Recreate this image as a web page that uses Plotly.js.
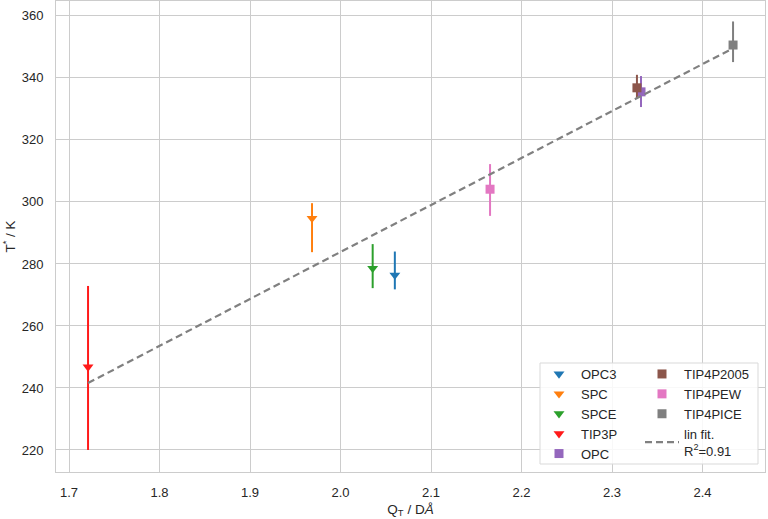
<!DOCTYPE html>
<html>
<head>
<meta charset="utf-8">
<script src="https://cdn.plot.ly/plotly-3.0.1.min.js"></script>
<style>html,body{margin:0;padding:0;background:#fff;}#chart{width:768px;height:519px;}</style>
</head>
<body>
<div id="chart"></div>
<script>
// ---- data ----
const models = ['OPC3', 'SPC', 'SPCE', 'TIP3P', 'OPC', 'TIP4P2005', 'TIP4PEW', 'TIP4PICE'];
const qT    = [2.060, 1.9685, 2.0355, 1.721, 2.332, 2.3275, 2.1652, 2.4337];
const tStar = [276.4, 294.7, 278.6, 246.8, 335.5, 336.8, 304.1, 350.6];
const tHigh = [284.0, 299.6, 286.4, 272.9, 340.6, 341.0, 312.2, 358.2];
const tLow  = [271.8, 283.8, 272.2, 220.0, 330.6, 333.5, 295.5, 345.1];
const fitX = [1.721, 2.434];
const fitY = [241.6, 349.6];
const fitName = 'lin fit.<br>R<sup>2</sup>=0.91';
const xTicks = [1.7, 1.8, 1.9, 2.0, 2.1, 2.2, 2.3, 2.4];
const yTicks = [220, 240, 260, 280, 300, 320, 340, 360];

// ---- styles ----
const colors  = ['#1f77b4', '#ff7f0e', '#2ca02c', '#ff1a1a', '#9467bd', '#8c564b', '#e377c2', '#7f7f7f'];
const symbols = ['triangle-down', 'triangle-down', 'triangle-down', 'triangle-down', 'square', 'square', 'square', 'square'];
const legendOf = ['legend', 'legend', 'legend', 'legend', 'legend', 'legend2', 'legend2', 'legend2'];

const traces = models.map((m, i) => ({
  type: 'scatter', mode: 'markers', name: m,
  x: [qT[i]], y: [tStar[i]],
  marker: {symbol: symbols[i], color: colors[i], size: symbols[i] === 'square' ? 9 : 9.5, line: {width: 0}},
  error_y: {type: 'data', symmetric: false, array: [tHigh[i] - tStar[i]], arrayminus: [tStar[i] - tLow[i]],
            width: 0, thickness: 2, color: colors[i]},
  legend: legendOf[i]
}));
traces.push({
  type: 'scatter', mode: 'lines', name: fitName, x: fitX, y: fitY,
  line: {color: '#808080', width: 2.2, dash: '7px,4px'}, legend: 'legend2'
});

const W = 768, H = 519, mL = 56, mR = 3, mT = 1, mB = 47;
const pw = W - mL - mR, ph = H - mT - mB;
const px2x = p => (p - mL) / pw;
const py2y = p => (H - mB - p) / ph;

const font = {family: 'Liberation Sans, Arial, sans-serif', color: '#262626'};
const legFont = {family: 'Liberation Sans, Arial, sans-serif', size: 13, color: '#262626'};

const layout = {
  width: W, height: H,
  margin: {l: mL, r: mR, t: mT, b: mB},
  paper_bgcolor: '#ffffff', plot_bgcolor: '#ffffff',
  font: font,
  showlegend: true,
  xaxis: {
    range: [1.6856, 2.469], tickvals: xTicks, ticktext: xTicks.map(v => v.toFixed(1)),
    showgrid: true, gridcolor: '#cccccc', gridwidth: 1, zeroline: false,
    showline: true, mirror: true, linecolor: '#cccccc', linewidth: 1,
    ticks: '', ticklabelstandoff: 8, tickfont: {size: 13, color: '#262626'},
    title: {text: 'Q<sub>T</sub> / D<i>Å</i>', font: {size: 13.5, color: '#262626'}, standoff: 5}
  },
  yaxis: {
    range: [212.9, 364.8], tickvals: yTicks,
    showgrid: true, gridcolor: '#cccccc', gridwidth: 1, zeroline: false,
    showline: true, mirror: true, linecolor: '#cccccc', linewidth: 1,
    ticks: '', ticklabelstandoff: 9, tickfont: {size: 13, color: '#262626'},
    title: {text: 'T<sup>*</sup> / K', font: {size: 13.5, color: '#262626'}, standoff: 7}
  },
  legend: {
    x: px2x(537), y: py2y(359), xanchor: 'left', yanchor: 'top', itemwidth: 34,
    bgcolor: 'rgba(0,0,0,0)', borderwidth: 0, font: legFont, tracegroupgap: 0
  },
  legend2: {
    x: px2x(640), y: py2y(359), xanchor: 'left', yanchor: 'top', itemwidth: 34,
    bgcolor: 'rgba(0,0,0,0)', borderwidth: 0, font: legFont, tracegroupgap: 0
  },
  shapes: [{
    type: 'rect', xref: 'paper', yref: 'paper', layer: 'above',
    x0: px2x(540), x1: px2x(758), y0: py2y(464), y1: py2y(363),
    fillcolor: 'rgba(255,255,255,0.85)', line: {color: '#d9d9d9', width: 1}
  }]
};

Plotly.newPlot('chart', traces, layout, {displayModeBar: false, staticPlot: true});
</script>
</body>
</html>
